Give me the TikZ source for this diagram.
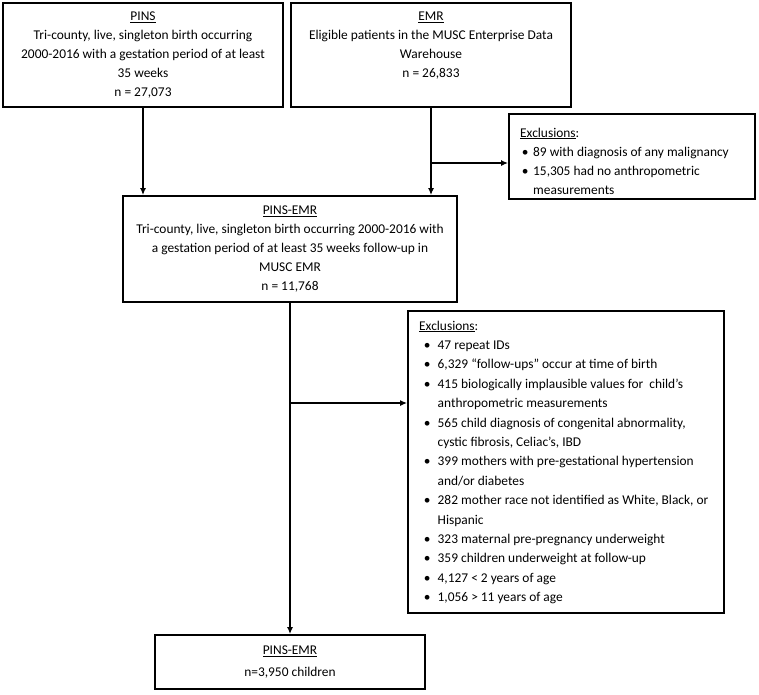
\documentclass[tikz,border=0pt]{standalone}
\usepackage{fontspec}
\setmainfont{Carlito}
\usetikzlibrary{arrows.meta}
\newcommand\bulA[1]{\makebox[13pt][l]{\hspace{5pt}\makebox[0pt]{\textbullet}}#1}
\newcommand\contA[1]{\hspace*{13pt}#1}
\newcommand\bulB[1]{\makebox[18.5pt][l]{\hspace{8pt}\makebox[0pt]{\textbullet}}#1}
\newcommand\contB[1]{\hspace*{18.5pt}#1}
\begin{document}
\begin{tikzpicture}[x=1pt,y=-1pt,
  box/.style={draw, line width=1.8pt, inner sep=0pt, rectangle},
  txt/.style={inner sep=0pt, align=center, font=\fontsize{13.4}{19}\selectfont},
  arr/.style={line width=1.6pt, -{Latex[length=7pt,width=6pt]}},
  ln/.style={line width=1.6pt}]
\useasboundingbox[fill=white] (0,0) rectangle (759,694);

% boxes
\node[box, minimum width=280, minimum height=104] (pins) at (143,55) {};
\node[box, minimum width=280, minimum height=104] (emr) at (431,55) {};
\node[box, minimum width=246, minimum height=85] (ex1) at (632,156.5) {};
\node[box, minimum width=334, minimum height=106] (pe) at (290,249) {};
\node[box, minimum width=316, minimum height=302] (ex2) at (566,462) {};
\node[box, minimum width=270, minimum height=54] (fin) at (290,662) {};

% texts
\node[txt] (pinst) at (143,55) {\underline{PINS}\\Tri-county, live, singleton birth occurring\\2000-2016 with a gestation period of at least\\35 weeks\\n = 27,073};
\node[txt] (emrt) at (431,46) {\underline{EMR}\\Eligible patients in the MUSC Enterprise Data\\Warehouse\\n = 26,833};
\node[txt] (pet) at (290,249) {\underline{PINS-EMR}\\Tri-county, live, singleton birth occurring 2000-2016 with\\a gestation period of at least 35 weeks follow-up in\\MUSC EMR\\n = 11,768};
\node[txt] (fint) at (290,662) {\underline{PINS-EMR}\\[3pt]n=3,950 children};

\node[txt, align=left, anchor=north west] (ex1t) at (520,127.5) {%
\underline{Exclusions}:\\
\bulA{89 with diagnosis of any malignancy}\\
\bulA{15,305 had no anthropometric}\\
\contA{measurements}};

\node[txt, align=left, anchor=north west, font=\fontsize{13.4}{19.4}\selectfont] (ex2t) at (419,320.5) {%
\underline{Exclusions}:\\
\bulB{47 repeat IDs}\\
\bulB{6,329 “follow-ups” occur at time of birth}\\
\bulB{415 biologically implausible values for\ \ child’s}\\
\contB{anthropometric measurements}\\
\bulB{565 child diagnosis of congenital abnormality,}\\
\contB{cystic fibrosis, Celiac’s, IBD}\\
\bulB{399 mothers with pre-gestational hypertension}\\
\contB{and/or diabetes}\\
\bulB{282 mother race not identified as White, Black, or}\\
\contB{Hispanic}\\
\bulB{323 maternal pre-pregnancy underweight}\\
\bulB{359 children underweight at follow-up}\\
\bulB{4,127 < 2 years of age}\\
\bulB{1,056 > 11 years of age}};

% connectors
\coordinate (j1) at (431,163);
\coordinate (j2) at (290,403);
\draw[arr] (pins.south) -- (pins.south |- pe.north);
\draw[arr] (emr.south) -- (emr.south |- pe.north);
\draw[arr] (j1) -- (j1 -| ex1.west);
\draw[arr] (pe.south) -- (fin.north);
\draw[arr] (j2) -- (j2 -| ex2.west);
\end{tikzpicture}
\end{document}
